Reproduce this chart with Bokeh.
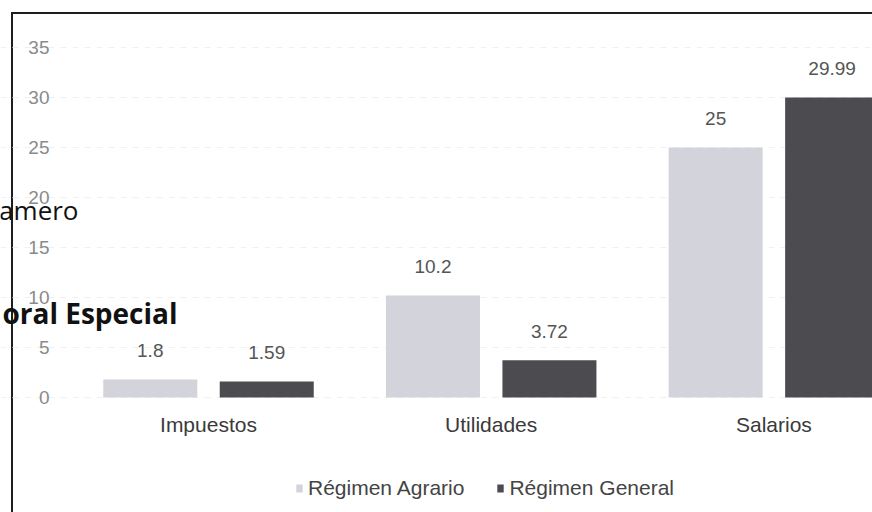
from bokeh.plotting import figure
from bokeh.models import ColumnDataSource, Range1d, FixedTicker, Legend, LegendItem, Label
from bokeh.transform import dodge
from bokeh.core.properties import value
from bokeh.embed import file_html
from bokeh.resources import INLINE

# ---- data ----
categories = ["Impuestos", "Utilidades", "Salarios"]
regimen_agrario = [1.8, 10.2, 25]
regimen_general = [1.59, 3.72, 29.99]
series_names = ["Régimen Agrario", "Régimen General"]
y_ticks = [0, 5, 10, 15, 20, 25, 30, 35]
overlay_texts = ["amero", "oral Especial"]

# ---- layout constants (pixels) ----
W, H = 872, 512
PX_PER_CAT = 282.7      # horizontal pixels per category
CAT0_PX = 208           # pixel of first category centre
ZERO_PX = 397           # pixel row of value 0
PX_PER_UNIT = 10.0      # vertical pixels per value unit
OFF = 0.206
BAR_W = 0.3325
LIGHT = "#d3d3db"
DARK = "#4b4b50"
FONT = "Liberation Sans"


def px_to_x(px):
    return (px - CAT0_PX) / PX_PER_CAT


def px_to_y(py):
    return (ZERO_PX - py) / PX_PER_UNIT


src = ColumnDataSource(dict(
    idx=list(range(len(categories))),
    agr=regimen_agrario,
    gen=regimen_general,
    agr_lbl=[f"{v:g}" for v in regimen_agrario],
    gen_lbl=[f"{v:g}" for v in regimen_general],
))

p = figure(width=W, height=H, output_backend="svg", toolbar_location=None,
           x_range=Range1d(px_to_x(0), px_to_x(W)),
           y_range=Range1d(px_to_y(H), px_to_y(0)),
           min_border_left=0, min_border_right=0,
           min_border_top=0, min_border_bottom=0)
p.outline_line_color = None
p.background_fill_color = None
p.border_fill_color = None
p.styles = {
    "background-image": "linear-gradient(#1e1e1e,#1e1e1e), linear-gradient(#1e1e1e,#1e1e1e)",
    "background-size": "2px 100%, 100% 2px",
    "background-position": "11px 12px, 11px 12px",
    "background-repeat": "no-repeat",
}

r1 = p.vbar(x=dodge("idx", -OFF, range=p.x_range), top="agr", width=BAR_W,
            source=src, fill_color=LIGHT, line_color=None)
r2 = p.vbar(x=dodge("idx", OFF, range=p.x_range), top="gen", width=BAR_W,
            source=src, fill_color=DARK, line_color=None)

for col, lbl, off in (("agr", "agr_lbl", -OFF), ("gen", "gen_lbl", OFF)):
    p.text(x=dodge("idx", off, range=p.x_range), y=col, text=lbl, source=src,
           text_align="center", text_baseline="alphabetic", y_offset=-29,
           text_font=value(FONT), text_font_size="19px", text_color="#555555")

# axes (placed inside the frame)
xa = p.xaxis[0]
xa.fixed_location = 0
xa.ticker = FixedTicker(ticks=list(range(len(categories))))
xa.major_label_overrides = {i: c for i, c in enumerate(categories)}
xa.axis_line_color = None
xa.major_tick_line_color = None
xa.minor_tick_line_color = None
xa.major_label_standoff = 9
xa.major_label_text_font = FONT
xa.major_label_text_font_size = "21px"
xa.major_label_text_color = "#3a3a3a"

ya = p.yaxis[0]
ya.fixed_location = px_to_x(59)
ya.ticker = FixedTicker(ticks=y_ticks)
ya.axis_line_color = None
ya.major_tick_line_color = None
ya.minor_tick_line_color = None
ya.major_label_standoff = 4
ya.major_label_text_font = FONT
ya.major_label_text_font_size = "19px"
ya.major_label_text_color = "#8a8a8a"

p.xgrid.grid_line_color = None
p.ygrid.ticker = FixedTicker(ticks=y_ticks)
p.ygrid.grid_line_color = "#f0f0f0"
p.ygrid.grid_line_dash = "6 6"

legend = Legend(items=[LegendItem(label=series_names[0], renderers=[r1]),
                       LegendItem(label=series_names[1], renderers=[r2])],
                orientation="horizontal", location=(295, 12),
                glyph_width=8, glyph_height=10, label_standoff=5, spacing=32,
                padding=0, margin=0, border_line_color=None,
                background_fill_alpha=0,
                label_text_font=FONT, label_text_font_size="21px",
                label_text_color="#444444")
p.add_layout(legend)

# overlapping text from the scanned page
p.add_layout(Label(x=px_to_x(78), y=px_to_y(209), text=overlay_texts[0],
                   text_align="right", text_baseline="alphabetic",
                   text_font="Open Sans", text_font_size="26px", text_color="#111111"))
p.add_layout(Label(x=px_to_x(177), y=px_to_y(312), text=overlay_texts[1],
                   text_align="right", text_baseline="alphabetic",
                   text_font="Open Sans", text_font_style="bold",
                   text_font_size="28px", text_color="#111111"))

open("out.html", "w").write(file_html(p, INLINE))
